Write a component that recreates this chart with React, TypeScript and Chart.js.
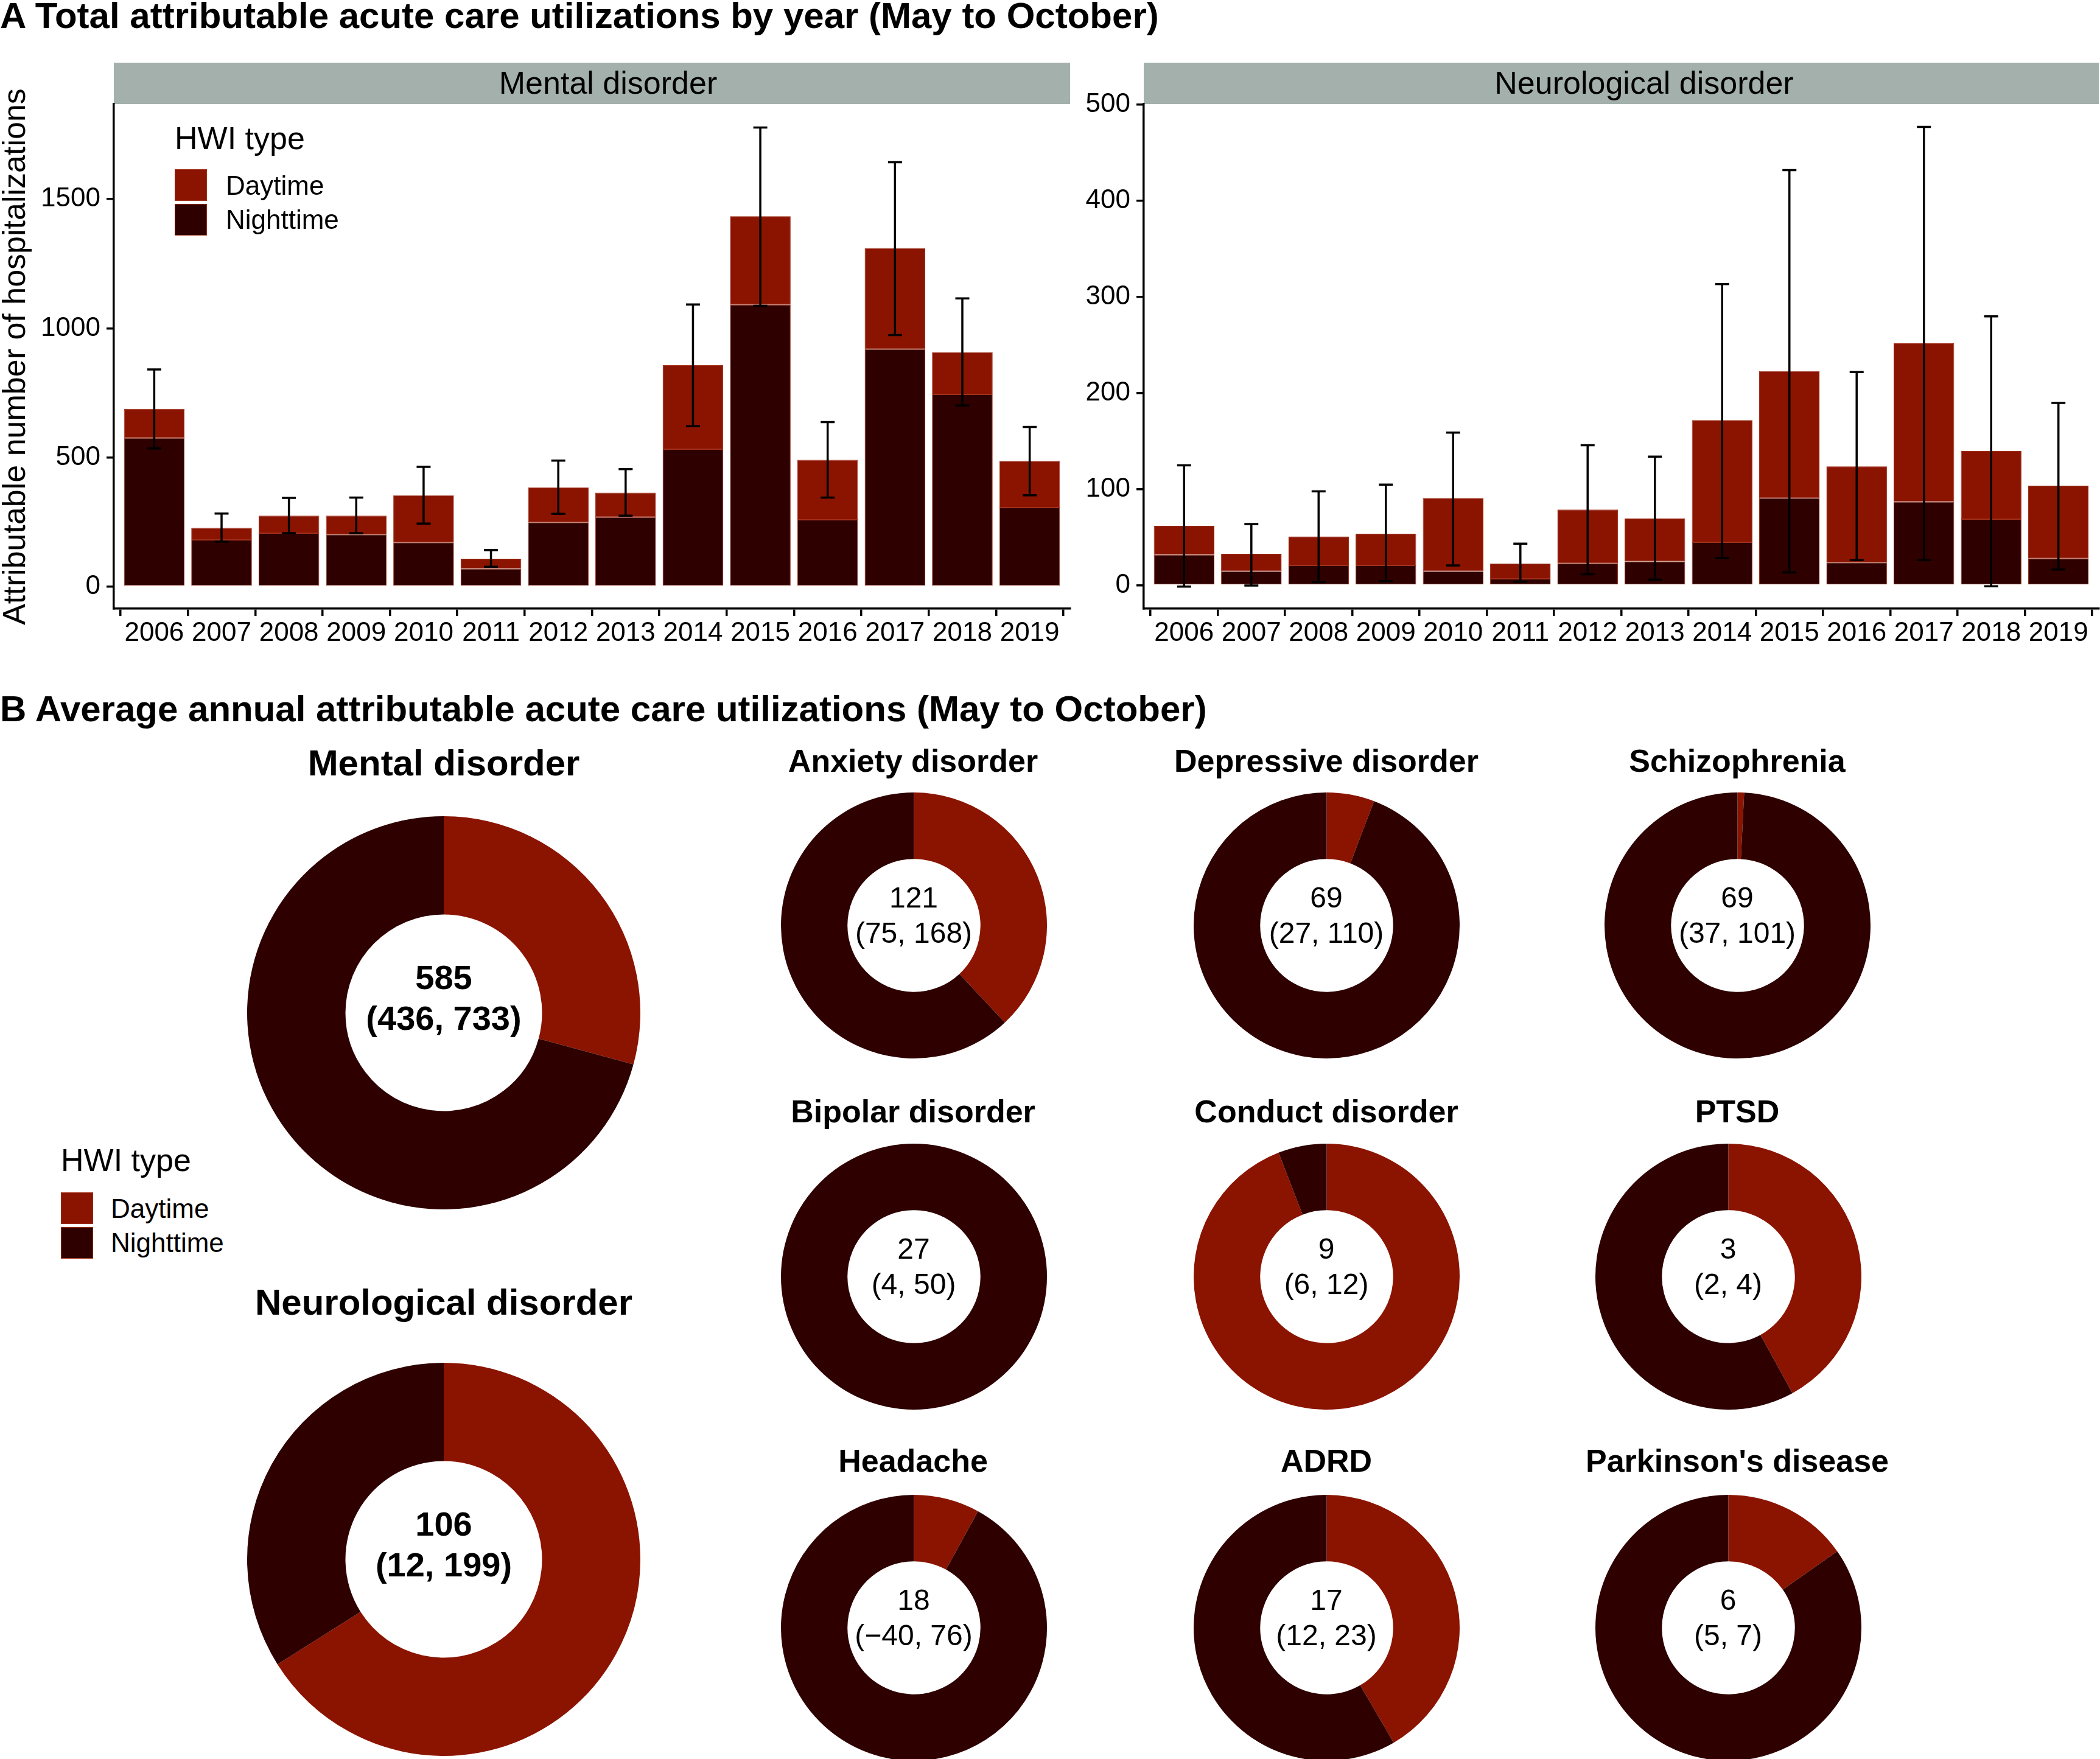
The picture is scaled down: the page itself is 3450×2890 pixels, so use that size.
import React, { useEffect, useRef } from "react";
import { Chart, registerables } from "chart.js";
Chart.register(...registerables);

const FONT = '"Liberation Sans", Arial, Helvetica, sans-serif';
const DAY = "#8B1400";
const NIGHT = "#2E0000";
const EDGE = "#A2301A";

// ---------- Panel A data ----------
const years = ["2006", "2007", "2008", "2009", "2010", "2011", "2012", "2013", "2014", "2015", "2016", "2017", "2018", "2019"];
const mentalNight = [575, 181, 207, 202, 171, 69, 249, 269, 532, 1091, 259, 919, 744, 306];
const mentalDay = [113, 47, 68, 73, 183, 39, 135, 95, 325, 343, 232, 392, 164, 181];
const mentalLo = [535, 175, 207, 207, 244, 77, 282, 275, 621, 1087, 345, 974, 701, 354];
const mentalHi = [841, 283, 344, 345, 464, 142, 488, 455, 1092, 1777, 637, 1643, 1116, 618];
const mentalTicks = [0, 500, 1000, 1500];

const neuroNight = [32, 15, 21, 21, 15, 7, 23, 25, 45, 91, 24, 87, 69, 28];
const neuroDay = [30, 18, 30, 33, 76, 16, 56, 45, 127, 132, 100, 165, 71, 76];
const neuroLo = [-1, 0, 3.5, 4.7, 21, 4, 11.7, 6.2, 28.7, 13.6, 26.4, 26.4, -0.8, 16.7];
const neuroHi = [125, 64, 98, 105, 159, 43.5, 146, 134, 313.5, 432, 222, 477, 280, 190];
const neuroTicks = [0, 100, 200, 300, 400, 500];

// ---------- Panel B data ----------
const donutNames = ["Mental disorder", "Neurological disorder", "Anxiety disorder", "Depressive disorder", "Schizophrenia", "Bipolar disorder", "Conduct disorder", "PTSD", "Headache", "ADRD", "Parkinson's disease"];
const donutDay = [171, 70, 46, 4, 0.55, 0, 8.47, 1.26, 1.44, 7.07, 0.915];
const donutNight = [414, 36, 75, 65, 68.45, 27, 0.53, 1.74, 16.56, 9.93, 5.085];
const donutEst = ["585", "106", "121", "69", "69", "27", "9", "3", "18", "17", "6"];
const donutCI = ["(436, 733)", "(12, 199)", "(75, 168)", "(27, 110)", "(37, 101)", "(4, 50)", "(6, 12)", "(2, 4)", "(\u221240, 76)", "(12, 23)", "(5, 7)"];

// layout (positions only)
const donutLayout = [
  { cx: 729, cy: 1664, r: 323, tx: 729, ty: 1254, big: true },
  { cx: 729, cy: 2562, r: 323, tx: 729, ty: 2140, big: true },
  { cx: 1501, cy: 1520, r: 218.5, tx: 1500, ty: 1250, big: false },
  { cx: 2179, cy: 1520, r: 218.5, tx: 2179, ty: 1250, big: false },
  { cx: 2854, cy: 1520, r: 218.5, tx: 2854, ty: 1250, big: false },
  { cx: 1501, cy: 2097, r: 218.5, tx: 1500, ty: 1826, big: false },
  { cx: 2179, cy: 2097, r: 218.5, tx: 2179, ty: 1826, big: false },
  { cx: 2839, cy: 2097, r: 218.5, tx: 2854, ty: 1826, big: false },
  { cx: 1501, cy: 2674, r: 218.5, tx: 1500, ty: 2400, big: false },
  { cx: 2179, cy: 2674, r: 218.5, tx: 2179, ty: 2400, big: false },
  { cx: 2839, cy: 2674, r: 218.5, tx: 2854, ty: 2400, big: false },
];

const errorBarPlugin = {
  id: "errbars",
  afterDatasetsDraw(chart: any, _args: any, opts: any) {
    const lo: number[] = opts.lo;
    const hi: number[] = opts.hi;
    if (!lo) return;
    const xs = chart.scales.x;
    const ys = chart.scales.y;
    const ctx = chart.ctx;
    ctx.save();
    ctx.strokeStyle = "#000";
    ctx.lineWidth = 3.5;
    lo.forEach((l, i) => {
      const px = xs.getPixelForValue(i);
      const y1 = ys.getPixelForValue(l);
      const y2 = ys.getPixelForValue(hi[i]);
      ctx.beginPath();
      ctx.moveTo(px, y1);
      ctx.lineTo(px, y2);
      ctx.moveTo(px - 11.5, y1);
      ctx.lineTo(px + 11.5, y1);
      ctx.moveTo(px - 11.5, y2);
      ctx.lineTo(px + 11.5, y2);
      ctx.stroke();
    });
    ctx.restore();
  },
};

function BarPanel(props: { left: number; width: number; day: number[]; night: number[]; lo: number[]; hi: number[]; min: number; max: number; ticks: number[]; axisW: number }) {
  const ref = useRef<HTMLCanvasElement>(null);
  useEffect(() => {
    const { day, night, lo, hi, min, max, ticks, axisW } = props;
    const ds = (label: string, vals: number[], color: string) => ({
      label,
      data: vals.map((v, i) => ({ x: i, y: v })),
      backgroundColor: color,
      borderColor: EDGE,
      borderWidth: 1,
      borderSkipped: false,
      barPercentage: 0.9,
      categoryPercentage: 1,
    });
    const axisCommon = {
      grid: { display: true, drawOnChartArea: false, drawTicks: true, tickLength: 12, color: "#000", lineWidth: 3.5 },
      border: { display: true, color: "#000", width: 3.5 },
    };
    const chart = new Chart(ref.current as HTMLCanvasElement, {
      type: "bar",
      data: { datasets: [ds("Nighttime", night, NIGHT), ds("Daytime", day, DAY)] as any },
      options: {
        animation: false,
        responsive: false,
        maintainAspectRatio: false,
        layout: { padding: { top: 70.5, right: 2, left: 0, bottom: 0 } },
        plugins: { legend: { display: false }, tooltip: { enabled: false }, errbars: { lo, hi } } as any,
        scales: {
          x: {
            type: "linear",
            min: -0.6,
            max: 13.6,
            stacked: true,
            offset: false,
            afterBuildTicks: (s: any) => {
              s.ticks = years.map((_, i) => ({ value: i }));
            },
            afterFit: (s: any) => {
              s.height = 100;
            },
            ticks: {
              callback: (v: any) => years[v as number],
              color: "#000",
              font: { family: FONT, size: 44 },
              padding: 2,
              maxRotation: 0,
              autoSkip: false,
            },
            ...axisCommon,
          },
          y: {
            type: "linear",
            min,
            max,
            stacked: true,
            afterBuildTicks: (s: any) => {
              s.ticks = ticks.map((v) => ({ value: v }));
            },
            afterFit: (s: any) => {
              s.width = axisW;
            },
            ticks: { callback: (v: any) => String(v), color: "#000", font: { family: FONT, size: 44 }, padding: 10 },
            ...axisCommon,
          },
        } as any,
      },
      plugins: [errorBarPlugin as any],
    });
    return () => chart.destroy();
  }, []);
  return (
    <canvas
      ref={ref}
      width={props.width}
      height={1000}
      style={{ position: "absolute", left: props.left, top: 100, width: props.width, height: 1000 }}
    />
  );
}

function Donut(props: { cx: number; cy: number; r: number; day: number; night: number }) {
  const ref = useRef<HTMLCanvasElement>(null);
  const size = Math.round(props.r * 2);
  useEffect(() => {
    const chart = new Chart(ref.current as HTMLCanvasElement, {
      type: "doughnut",
      data: {
        labels: ["Daytime", "Nighttime"],
        datasets: [{ data: [props.day, props.night], backgroundColor: [DAY, NIGHT], borderWidth: 0 }],
      },
      options: {
        animation: false,
        responsive: false,
        maintainAspectRatio: false,
        cutout: "50%",
        layout: { padding: 0 },
        plugins: { legend: { display: false }, tooltip: { enabled: false } },
      },
    });
    return () => chart.destroy();
  }, []);
  return (
    <canvas
      ref={ref}
      width={size}
      height={size}
      style={{ position: "absolute", left: props.cx - size / 2, top: props.cy - size / 2, width: size, height: size }}
    />
  );
}

function Txt(props: { x: number; y: number; size: number; bold?: boolean; align?: "left" | "center"; rotate?: boolean; children: React.ReactNode }) {
  const tx = props.align === "left" ? "0" : "-50%";
  return (
    <div
      style={{
        position: "absolute",
        left: props.x,
        top: props.y,
        transform: `translate(${tx}, -50%)${props.rotate ? " rotate(-90deg)" : ""}`,
        fontFamily: FONT,
        fontSize: props.size,
        fontWeight: props.bold ? 700 : 400,
        lineHeight: 1,
        whiteSpace: "nowrap",
        color: "#000",
      }}
    >
      {props.children}
    </div>
  );
}

function Legend(props: { x: number; titleY: number; keyTop: number; labelX: number }) {
  const { x, titleY, keyTop, labelX } = props;
  return (
    <>
      <Txt x={x} y={titleY} size={52} align="left">HWI type</Txt>
      <div style={{ position: "absolute", left: x, top: keyTop, width: 53, height: 52, background: DAY, boxSizing: "border-box", border: `1px solid ${EDGE}` }} />
      <div style={{ position: "absolute", left: x, top: keyTop + 57, width: 53, height: 52, background: NIGHT, boxSizing: "border-box", border: `1px solid ${EDGE}` }} />
      <Txt x={labelX} y={keyTop + 27} size={44} align="left">Daytime</Txt>
      <Txt x={labelX} y={keyTop + 83} size={44} align="left">Nighttime</Txt>
    </>
  );
}

export default function App() {
  return (
    <div style={{ position: "absolute", left: 0, top: 0, width: 3450, height: 2890, overflow: "hidden", background: "#fff" }}>
      <Txt x={0} y={26} size={60} bold align="left">A Total attributable acute care utilizations by year (May to October)</Txt>

      {/* strips */}
      <div style={{ position: "absolute", left: 187, top: 103, width: 1571, height: 68, background: "#A3B0AB" }} />
      <div style={{ position: "absolute", left: 1879, top: 103, width: 1569, height: 68, background: "#A3B0AB" }} />
      <Txt x={999} y={136} size={52}>Mental disorder</Txt>
      <Txt x={2701} y={136} size={52}>Neurological disorder</Txt>

      <Txt x={23} y={586} size={52} rotate>Attributable number of hospitalizations</Txt>

      <BarPanel left={0} width={1760} day={mentalDay} night={mentalNight} lo={mentalLo} hi={mentalHi} min={-85} max={1869} ticks={mentalTicks} axisW={187} />
      <BarPanel left={1760} width={1690} day={neuroDay} night={neuroNight} lo={neuroLo} hi={neuroHi} min={-24} max={501} ticks={neuroTicks} axisW={119} />

      <Legend x={287} titleY={227} keyTop={278} labelX={371} />

      <Txt x={0} y={1165} size={60} bold align="left">B Average annual attributable acute care utilizations (May to October)</Txt>

      {donutLayout.map((L, i) => (
        <React.Fragment key={i}>
          <Donut cx={L.cx} cy={L.cy} r={L.r} day={donutDay[i]} night={donutNight[i]} />
          <Txt x={L.tx} y={L.ty} size={L.big ? 60 : 52} bold>{donutNames[i]}</Txt>
          <Txt x={L.cx} y={L.cy + (L.big ? -58 : -45)} size={L.big ? 56 : 48} bold={L.big}>{donutEst[i]}</Txt>
          <Txt x={L.cx} y={L.cy + (L.big ? 9 : 13)} size={L.big ? 56 : 48} bold={L.big}>{donutCI[i]}</Txt>
        </React.Fragment>
      ))}

      <Legend x={100} titleY={1906} keyTop={1959} labelX={182} />
    </div>
  );
}
